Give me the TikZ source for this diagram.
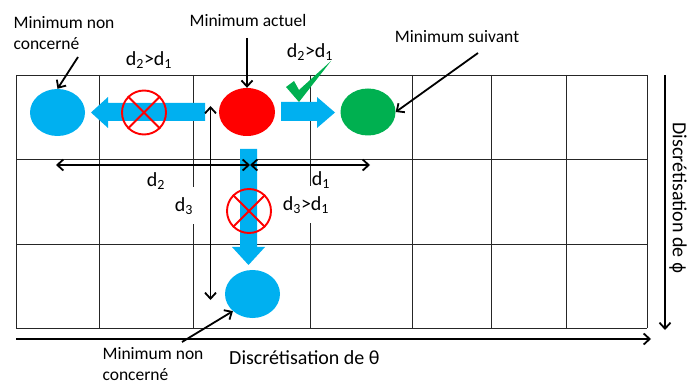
\documentclass[tikz,border=0pt]{standalone}
\usepackage{fontspec}
\setmainfont{Carlito}
\newfontfamily\djv{DejaVu Sans}
\usetikzlibrary{arrows.meta,shapes.geometric}
\definecolor{skyb}{HTML}{00B0F0}
\definecolor{redm}{HTML}{FF0000}
\definecolor{greenm}{HTML}{00B050}
\begin{document}
\begin{tikzpicture}[x=1pt,y=-1pt,
  gridline/.style={line width=0.9pt, draw=black!85},
  blob/.style={ellipse, minimum width=55pt, minimum height=47pt, inner sep=0pt},
  ptr/.style={line width=1.8pt, -{Straight Barb[length=6pt,width=11pt]}},
  dd/.style={line width=1.8pt, {Straight Barb[length=6pt,width=11pt]}-{Straight Barb[length=6pt,width=11pt]}},
  lab/.style={font=\fontsize{17.5}{21}\selectfont, align=left, inner sep=1pt},
  axlab/.style={font=\fontsize{20}{24}\selectfont, inner sep=1pt},
  dlab/.style={font=\fontsize{20}{24}\selectfont, fill=white, inner sep=2pt},
  crossring/.style={circle, draw=redm, line width=1.9pt, minimum size=44pt, inner sep=0pt},
  crossline/.style={draw=redm, line width=1.9pt}
]
\useasboundingbox (0,0) rectangle (689,385);
% grid
\foreach \x in {16,99,193,310,412,491,566,647} \draw[gridline] (\x,75) -- (\x,328);
\foreach \y in {75,159,244,328} \draw[gridline] (16,\y) -- (647,\y);
% minima
\node[blob, fill=skyb] (mnl) at (57.5,112.5) {};
\node[blob, fill=redm, minimum width=56pt, minimum height=48pt] (mact) at (247,112) {};
\node[blob, fill=greenm] (msuiv) at (368,112) {};
\node[blob, fill=skyb, minimum height=48pt] (mbas) at (252.5,294) {};
% fat arrows
\fill[skyb] (205,103) -- (108,103) -- (108,97) -- (91,112.5) -- (108,128) -- (108,121) -- (205,121) -- cycle;
\fill[skyb] (281,102) -- (317,102) -- (317,97) -- (335,112.5) -- (317,128) -- (317,121) -- (281,121) -- cycle;
\fill[skyb] (240,149) -- (257,149) -- (257,247) -- (265,247) -- (248.5,265) -- (232,247) -- (240,247) -- cycle;
% crosses
\node[crossring] (c1) at (144,112.5) {};
\draw[crossline] (c1.north west) -- (c1.south east);
\draw[crossline] (c1.north east) -- (c1.south west);
\node[crossring] (c2) at (249,211) {};
\draw[crossline] (c2.north west) -- (c2.south east);
\draw[crossline] (c2.north east) -- (c2.south west);
% check mark
\fill[greenm] (286,87) -- (294,81) -- (299,90) -- (331,61) -- (299,102) -- cycle;
% distance arrows
\coordinate (hL) at (56,165);
\coordinate (hM) at (250,165);
\coordinate (hR) at (370,165);
\coordinate (vT) at (210.5,106);
\coordinate (vB) at (210.5,300);
\draw[dd] (hL) -- (hM);
\draw[dd] (hM) -- (hR);
\draw[dd] (vT) -- (vB);
% distance labels
\node[dlab, minimum height=37pt] (ld3) at (184,206) {d\textsubscript{3}};
\node[dlab, minimum height=37pt] (ld31) at (306,205) {d\textsubscript{3}>d\textsubscript{1}};
\node[dlab] (ld2) at (156,181) {d\textsubscript{2}};
\node[dlab, fill=none] (ld1) at (321,180) {d\textsubscript{1}};
\node[dlab, fill=none] (ld21a) at (149,60) {d\textsubscript{2}>d\textsubscript{1}};
\node[dlab, fill=none] (ld21b) at (310,52) {d\textsubscript{2}>d\textsubscript{1}};
% text labels
\node[lab] (tnl) at (64,33) {Minimum non\\concerné};
\node[lab] (tact) at (248,20) {Minimum actuel};
\node[lab] (tsuiv) at (457,37) {Minimum suivant};
\node[lab] (tbas) at (153,364) {Minimum non\\concerné};
\coordinate (p1) at (78,57);
\coordinate (p2) at (247,38);
\coordinate (p3) at (478,53);
\coordinate (p4) at (182,342);
\draw[ptr] (p1) -- (mnl.north);
\draw[ptr] (p2) -- (mact.north);
\draw[ptr] (p3) -- (msuiv.east);
\draw[ptr] (p4) -- (mbas.south west);
% axes
\coordinate (ax0) at (16,339);
\coordinate (ax1) at (651,339);
\coordinate (ay0) at (665,75);
\coordinate (ay1) at (665,330);
\draw[ptr] (ax0) -- (ax1);
\draw[ptr] (ay0) -- (ay1);
\node[axlab, anchor=west] (tth) at (228,358) {Discrétisation de θ};
\node[axlab, rotate=-90] (tph) at (678,198) {Discrétisation de {\djv\fontsize{17}{20}\selectfont ϕ}};
\end{tikzpicture}
\end{document}
